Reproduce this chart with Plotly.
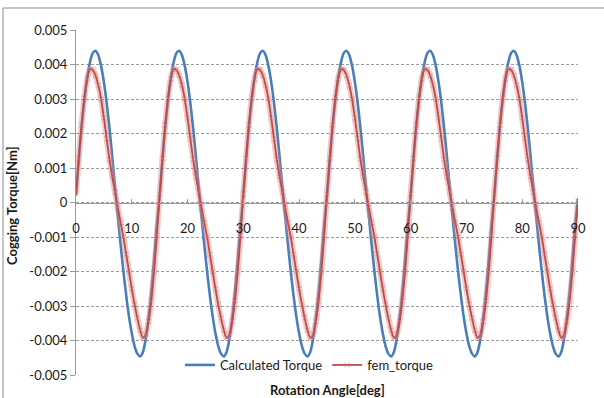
import plotly.graph_objects as go

# ---- data ----
angle_step_deg = 0.5
angle_deg = [i * angle_step_deg for i in range(181)]

calculated_torque = [
    0.00020, 0.00125, 0.00220, 0.00297, 0.00360, 0.00406, 0.00433, 0.00440, 0.00427, 0.00396,
    0.00349, 0.00288, 0.00215, 0.00132, 0.00044, -0.00041, -0.00122, -0.00199, -0.00269, -0.00330,
    -0.00379, -0.00416, -0.00438, -0.00446, -0.00433, -0.00396, -0.00337, -0.00259, -0.00166, -0.00064,
    0.00020, 0.00125, 0.00220, 0.00297, 0.00360, 0.00406, 0.00433, 0.00440, 0.00427, 0.00396,
    0.00349, 0.00288, 0.00215, 0.00132, 0.00044, -0.00041, -0.00122, -0.00199, -0.00269, -0.00330,
    -0.00379, -0.00416, -0.00438, -0.00446, -0.00433, -0.00396, -0.00337, -0.00259, -0.00166, -0.00064,
    0.00020, 0.00125, 0.00220, 0.00297, 0.00360, 0.00406, 0.00433, 0.00440, 0.00427, 0.00396,
    0.00349, 0.00288, 0.00215, 0.00132, 0.00044, -0.00041, -0.00122, -0.00199, -0.00269, -0.00330,
    -0.00379, -0.00416, -0.00438, -0.00446, -0.00433, -0.00396, -0.00337, -0.00259, -0.00166, -0.00064,
    0.00020, 0.00125, 0.00220, 0.00297, 0.00360, 0.00406, 0.00433, 0.00440, 0.00427, 0.00396,
    0.00349, 0.00288, 0.00215, 0.00132, 0.00044, -0.00041, -0.00122, -0.00199, -0.00269, -0.00330,
    -0.00379, -0.00416, -0.00438, -0.00446, -0.00433, -0.00396, -0.00337, -0.00259, -0.00166, -0.00064,
    0.00020, 0.00125, 0.00220, 0.00297, 0.00360, 0.00406, 0.00433, 0.00440, 0.00427, 0.00396,
    0.00349, 0.00288, 0.00215, 0.00132, 0.00044, -0.00041, -0.00122, -0.00199, -0.00269, -0.00330,
    -0.00379, -0.00416, -0.00438, -0.00446, -0.00433, -0.00396, -0.00337, -0.00259, -0.00166, -0.00064,
    0.00020, 0.00125, 0.00220, 0.00297, 0.00360, 0.00406, 0.00433, 0.00440, 0.00427, 0.00396,
    0.00349, 0.00288, 0.00215, 0.00132, 0.00044, -0.00041, -0.00122, -0.00199, -0.00269, -0.00330,
    -0.00379, -0.00416, -0.00438, -0.00446, -0.00433, -0.00396, -0.00337, -0.00259, -0.00166, -0.00064,
    0.00012,
]

fem_torque = [
    0.00025, 0.00128, 0.00225, 0.00303, 0.00358, 0.00386, 0.00385, 0.00368, 0.00340, 0.00300,
    0.00245, 0.00185, 0.00125, 0.00075, 0.00030, -0.00015, -0.00058, -0.00100, -0.00150, -0.00200,
    -0.00250, -0.00295, -0.00335, -0.00370, -0.00392, -0.00382, -0.00345, -0.00285, -0.00200, -0.00095,
    0.00025, 0.00128, 0.00225, 0.00303, 0.00358, 0.00386, 0.00385, 0.00368, 0.00340, 0.00300,
    0.00245, 0.00185, 0.00125, 0.00075, 0.00030, -0.00015, -0.00058, -0.00100, -0.00150, -0.00200,
    -0.00250, -0.00295, -0.00335, -0.00370, -0.00392, -0.00382, -0.00345, -0.00285, -0.00200, -0.00095,
    0.00025, 0.00128, 0.00225, 0.00303, 0.00358, 0.00386, 0.00385, 0.00368, 0.00340, 0.00300,
    0.00245, 0.00185, 0.00125, 0.00075, 0.00030, -0.00015, -0.00058, -0.00100, -0.00150, -0.00200,
    -0.00250, -0.00295, -0.00335, -0.00370, -0.00392, -0.00382, -0.00345, -0.00285, -0.00200, -0.00095,
    0.00025, 0.00128, 0.00225, 0.00303, 0.00358, 0.00386, 0.00385, 0.00368, 0.00340, 0.00300,
    0.00245, 0.00185, 0.00125, 0.00075, 0.00030, -0.00015, -0.00058, -0.00100, -0.00150, -0.00200,
    -0.00250, -0.00295, -0.00335, -0.00370, -0.00392, -0.00382, -0.00345, -0.00285, -0.00200, -0.00095,
    0.00025, 0.00128, 0.00225, 0.00303, 0.00358, 0.00386, 0.00385, 0.00368, 0.00340, 0.00300,
    0.00245, 0.00185, 0.00125, 0.00075, 0.00030, -0.00015, -0.00058, -0.00100, -0.00150, -0.00200,
    -0.00250, -0.00295, -0.00335, -0.00370, -0.00392, -0.00382, -0.00345, -0.00285, -0.00200, -0.00095,
    0.00025, 0.00128, 0.00225, 0.00303, 0.00358, 0.00386, 0.00385, 0.00368, 0.00340, 0.00300,
    0.00245, 0.00185, 0.00125, 0.00075, 0.00030, -0.00015, -0.00058, -0.00100, -0.00150, -0.00200,
    -0.00250, -0.00295, -0.00335, -0.00370, -0.00392, -0.00382, -0.00345, -0.00285, -0.00200, -0.00095,
    0.00005,
]

x_tick_vals = [0, 10, 20, 30, 40, 50, 60, 70, 80, 90]
x_tick_text = ["0", "10", "20", "30", "40", "50", "60", "70", "80", "90"]
y_tick_vals = [0.005, 0.004, 0.003, 0.002, 0.001, 0, -0.001, -0.002, -0.003, -0.004, -0.005]
y_tick_text = ["0.005", "0.004", "0.003", "0.002", "0.001", "0",
               "-0.001", "-0.002", "-0.003", "-0.004", "-0.005"]

series_names = ["Calculated Torque", "fem_torque"]
x_title = "Rotation Angle[deg]"
y_title = "Cogging Torque[Nm]"

# ---- styling ----
FONT = "Lato, 'Open Sans', sans-serif"
BLUE = "#4A7EBB"
RED = "#BE4B48"
PINK = "rgba(210,115,112,0.55)"
HALO = "rgba(220,140,138,0.45)"
GRID = "#9A9A9A"
TXT = "#1a1a1a"

fig = go.Figure()
fig.add_trace(go.Scatter(
    x=angle_deg, y=calculated_torque, name=series_names[0], mode="lines",
    line=dict(color=BLUE, width=2.6, shape="spline", smoothing=0.8),
))
# soft marker halo of the fem series (dense markers in the original)
fig.add_trace(go.Scatter(
    x=angle_deg, y=fem_torque, mode="lines", showlegend=False, hoverinfo="skip",
    line=dict(color=HALO, width=6, shape="spline", smoothing=0.8),
))
fig.add_trace(go.Scatter(
    x=angle_deg, y=fem_torque, name=series_names[1], mode="lines+markers",
    line=dict(color=RED, width=1.8, shape="spline", smoothing=0.8),
    marker=dict(symbol="x-thin", size=5, color=PINK,
                line=dict(color=PINK, width=1)),
))

fig.update_layout(
    width=604, height=398,
    margin=dict(l=76, r=26, t=30, b=23),
    paper_bgcolor="white", plot_bgcolor="white",
    font=dict(family=FONT, size=13, color=TXT),
    showlegend=True,
    legend=dict(orientation="h", x=0.465, xanchor="center", y=0.029, yanchor="middle",
                bgcolor="rgba(255,255,255,0)", font=dict(family=FONT, size=13, color=TXT),
                itemwidth=30, tracegroupgap=0),
    xaxis=dict(
        range=[0, 90], tickvals=x_tick_vals, ticktext=x_tick_text,
        anchor="free", position=0.5, showgrid=False, zeroline=False,
        showline=True, linecolor=GRID, linewidth=1,
        ticks="inside", ticklen=4, tickcolor=GRID, ticklabelstandoff=14,
        tickfont=dict(family=FONT, size=13, color=TXT),
    ),
    yaxis=dict(
        range=[-0.005, 0.005], tickvals=y_tick_vals, ticktext=y_tick_text,
        showgrid=True, gridcolor=GRID, griddash="3px,2px", gridwidth=1,
        zeroline=False, showline=True, linecolor=GRID, linewidth=1,
        ticks="outside", ticklen=5, tickcolor=GRID,
        tickfont=dict(family=FONT, size=13, color=TXT),
    ),
    annotations=[
        dict(text="<b>" + x_title + "</b>", xref="paper", yref="paper", x=0.5, y=-0.0435,
             xanchor="center", yanchor="middle", showarrow=False,
             font=dict(family=FONT, size=13, color=TXT)),
        dict(text="<b>" + y_title + "</b>", xref="paper", yref="paper", x=-0.1275, y=0.49,
             xanchor="center", yanchor="middle", textangle=-90, showarrow=False,
             font=dict(family=FONT, size=13, color=TXT)),
    ],
    shapes=[
        dict(type="rect", xref="paper", yref="paper", x0=-0.1454, x1=1.056, y0=-0.072, y1=1.0638,
             line=dict(color="#8c8c8c", width=1), fillcolor="rgba(0,0,0,0)", layer="below"),
    ],
)

fig.write_html("out.html")
